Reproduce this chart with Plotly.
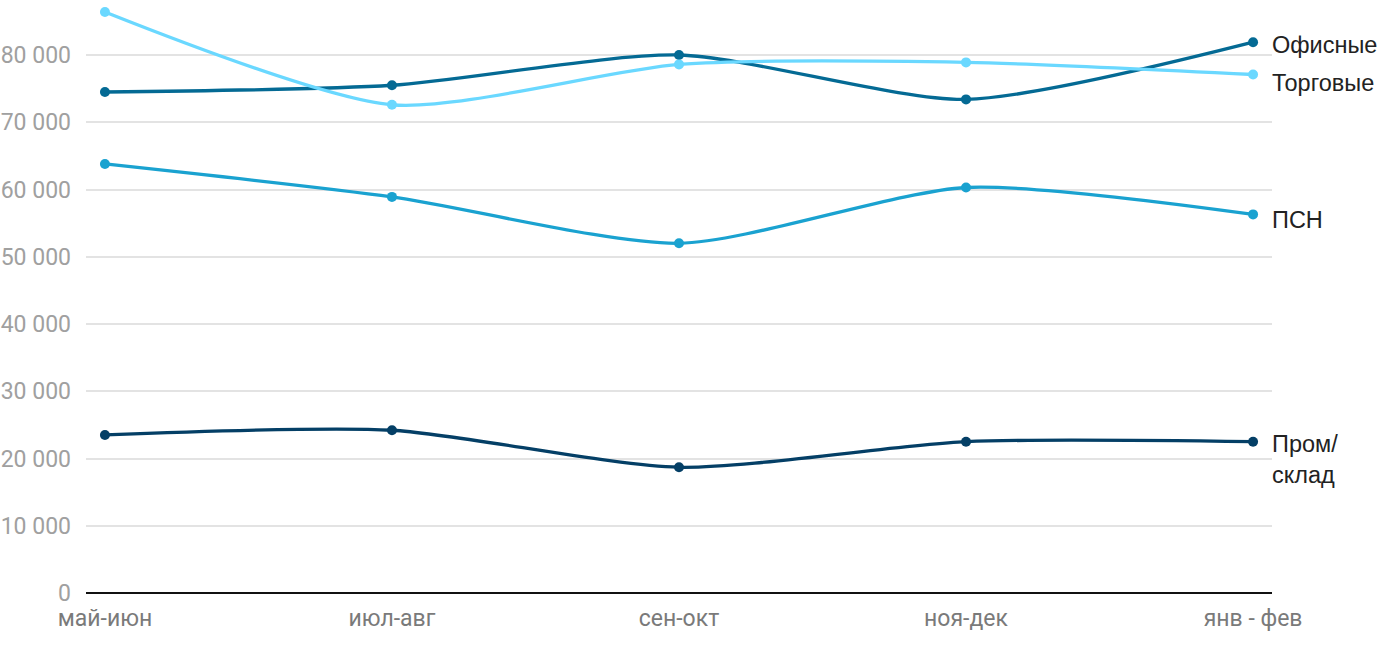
import plotly.graph_objects as go

categories = ["май-июн", "июл-авг", "сен-окт", "ноя-дек", "янв - фев"]
offices = [74500, 75500, 80000, 73400, 81900]
retail = [86400, 72600, 78600, 78900, 77100]
psn = [63800, 58900, 52000, 60300, 56300]
industrial = [23500, 24200, 18700, 22500, 22500]

series = [
    ("Офисные", offices, "#046a94", -3),
    ("Торговые", retail, "#6ad8ff", -8),
    ("ПСН", psn, "#1aa2d0", -6),
    ("Пром/<br>склад", industrial, "#043f66", -18),
]

fig = go.Figure()
for name, vals, color, _ in series:
    fig.add_trace(go.Scatter(
        x=list(range(len(categories))), y=vals, mode="lines+markers",
        name=name.replace("<br>", ""),
        line=dict(color=color, width=3.3, shape="spline", smoothing=0.7),
        marker=dict(color=color, size=10),
        cliponaxis=False, showlegend=False,
    ))

for name, vals, color, ys in series:
    fig.add_annotation(
        x=len(categories) - 1, y=vals[-1], text=name, showarrow=False,
        xref="x", yref="y", xanchor="left", yanchor="middle",
        xshift=17, yshift=ys, align="left",
        font=dict(family="Liberation Sans", size=23.5, color="#222222"),
    )

fig.update_layout(
    width=1400, height=650,
    margin=dict(l=86, r=128, t=0, b=57),
    plot_bgcolor="white", paper_bgcolor="white",
    separators=", ",
    font=dict(family="Roboto"),
    xaxis=dict(
        range=[-0.066, 4.066], tickmode="array",
        tickvals=list(range(len(categories))), ticktext=categories,
        showgrid=False, zeroline=False, showline=False, ticks="",
        automargin=False, ticklabelstandoff=9,
        tickfont=dict(size=23, color="#7a7a7a"),
    ),
    yaxis=dict(
        range=[0, 88178], tickmode="array",
        tickvals=[0, 10000, 20000, 30000, 40000, 50000, 60000, 70000, 80000],
        tickformat=",d", showgrid=True, gridcolor="#e3e3e3", gridwidth=2,
        zeroline=True, zerolinecolor="#111111", zerolinewidth=2,
        ticks="", ticklabelstandoff=14, automargin=False,
        tickfont=dict(size=23, color="#a0a0a0"),
    ),
)

fig.write_html("out.html", config={"displayModeBar": False},
               post_script="document.body.style.margin='0';")
